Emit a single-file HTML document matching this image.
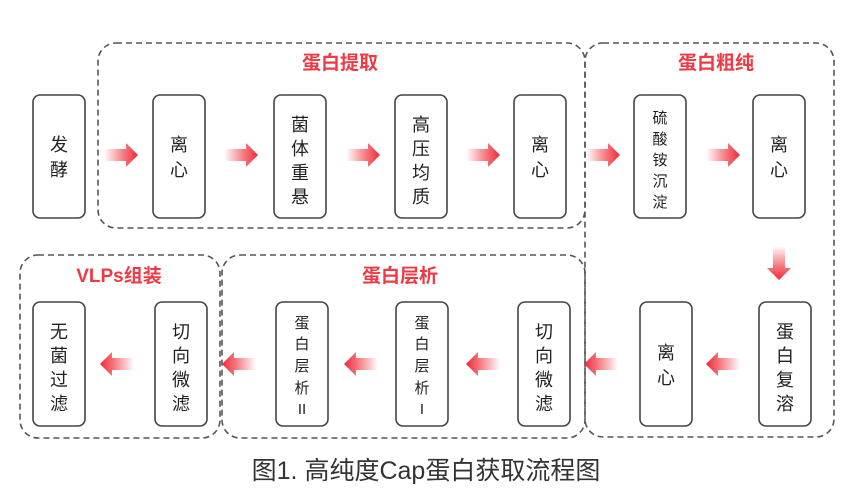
<!DOCTYPE html>
<html><head><meta charset="utf-8"><style>
html,body{margin:0;padding:0;background:#fff;}
svg{display:block;}
text{font-family:"Liberation Sans","Noto Sans CJK SC",sans-serif;}
</style></head><body>
<svg width="858" height="502" viewBox="0 0 858 502" xmlns="http://www.w3.org/2000/svg">
<defs>
<linearGradient id="gr" x1="0" x2="1" y1="0" y2="0"><stop offset="0" stop-color="#f23a45" stop-opacity="0"/><stop offset="0.6" stop-color="#f23a45" stop-opacity="0.7"/><stop offset="1" stop-color="#ee2a36"/></linearGradient>
<path id="ar" d="M0,-6 L22,-6 L22,-12 L34,0 L22,12 L22,6 L0,6 Z"/>
</defs>
<g fill="none" stroke="#555" stroke-width="1.6" stroke-dasharray="6,4">
<rect x="98" y="43" width="487" height="185" rx="18"/>
<rect x="585" y="43" width="249" height="394" rx="18"/>
<rect x="20" y="255" width="200" height="183" rx="18"/>
<rect x="222" y="255" width="363" height="183" rx="18"/>
</g>
<g font-size="19" font-weight="bold" fill="#ee3a44" text-anchor="middle">
<text x="340" y="69">蛋白提取</text>
<text x="716" y="69">蛋白粗纯</text>
<text x="119" y="282">VLPs组装</text>
<text x="400" y="282">蛋白层析</text>
</g>
<g fill="#fff" stroke="#444" stroke-width="1.6">
<rect x="33" y="95" width="52" height="123" rx="7"/>
<rect x="153" y="95" width="52" height="123" rx="7"/>
<rect x="274" y="95" width="52" height="123" rx="7"/>
<rect x="395" y="95" width="52" height="123" rx="7"/>
<rect x="514" y="95" width="52" height="123" rx="7"/>
<rect x="634" y="95" width="52" height="123" rx="7"/>
<rect x="753" y="95" width="52" height="123" rx="7"/>
<rect x="33" y="302" width="52" height="124" rx="7"/>
<rect x="155" y="302" width="52" height="124" rx="7"/>
<rect x="276" y="302" width="52" height="124" rx="7"/>
<rect x="396" y="302" width="52" height="124" rx="7"/>
<rect x="518" y="302" width="52" height="124" rx="7"/>
<rect x="640" y="302" width="52" height="124" rx="7"/>
<rect x="759" y="302" width="52" height="124" rx="7"/>
</g>
<g font-size="18" fill="#222" text-anchor="middle">
<text x="59" y="151">发</text><text x="59" y="176">酵</text>
<text x="179" y="151">离</text><text x="179" y="176">心</text>
<text x="300" y="131">菌</text><text x="300" y="155">体</text><text x="300" y="179">重</text><text x="300" y="203">悬</text>
<text x="421" y="131">高</text><text x="421" y="155">压</text><text x="421" y="179">均</text><text x="421" y="203">质</text>
<text x="540" y="151">离</text><text x="540" y="176">心</text>
<text x="779" y="151">离</text><text x="779" y="176">心</text>
<text x="59" y="338">无</text><text x="59" y="362">菌</text><text x="59" y="386">过</text><text x="59" y="410">滤</text>
<text x="181" y="338">切</text><text x="181" y="362">向</text><text x="181" y="386">微</text><text x="181" y="410">滤</text>
<text x="544" y="338">切</text><text x="544" y="362">向</text><text x="544" y="386">微</text><text x="544" y="410">滤</text>
<text x="666" y="359">离</text><text x="666" y="384">心</text>
<text x="785" y="338">蛋</text><text x="785" y="362">白</text><text x="785" y="386">复</text><text x="785" y="410">溶</text>
</g>
<g font-size="15" fill="#222" text-anchor="middle">
<text x="660" y="123">硫</text><text x="660" y="144">酸</text><text x="660" y="165">铵</text><text x="660" y="186">沉</text><text x="660" y="207">淀</text>
<text x="302" y="328">蛋</text><text x="302" y="349">白</text><text x="302" y="371">层</text><text x="302" y="393">析</text><text x="302" y="414">II</text>
<text x="422" y="328">蛋</text><text x="422" y="349">白</text><text x="422" y="371">层</text><text x="422" y="393">析</text><text x="422" y="414">I</text>
</g>
<g fill="url(#gr)">
<use href="#ar" transform="translate(104,155)"/>
<use href="#ar" transform="translate(224,155)"/>
<use href="#ar" transform="translate(346,155)"/>
<use href="#ar" transform="translate(466,155)"/>
<use href="#ar" transform="translate(586,155)"/>
<use href="#ar" transform="translate(706,155)"/>
</g>
<g fill="url(#gr)">
<use href="#ar" transform="translate(134,364) scale(-1,1)"/>
<use href="#ar" transform="translate(256,364) scale(-1,1)"/>
<use href="#ar" transform="translate(378,364) scale(-1,1)"/>
<use href="#ar" transform="translate(500,364) scale(-1,1)"/>
<use href="#ar" transform="translate(618,364) scale(-1,1)"/>
<use href="#ar" transform="translate(740,364) scale(-1,1)"/>
</g>
<use href="#ar" fill="url(#gr)" transform="translate(779,246) rotate(90)"/>
<text x="426" y="479" font-size="25" fill="#333" text-anchor="middle">图1. 高纯度Cap蛋白获取流程图</text>
</svg>
</body></html>
